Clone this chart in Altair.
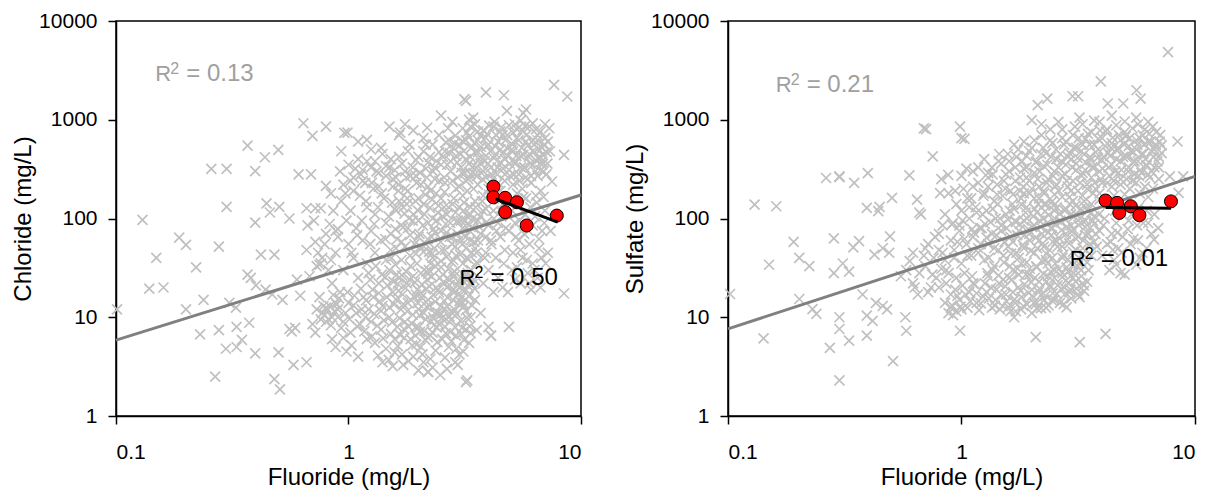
import altair as alt
import pandas as pd

FONT = "Liberation Sans"
x_ticks = [0.1, 1, 10]
y_ticks = [1, 10, 100, 1000, 10000]

# ---- left panel: fluoride vs chloride, all wells (grey crosses) ----
chloride_all = [
    (0.101, 12), (0.13, 97), (0.139, 19.5), (0.149, 40), (0.16, 20), (0.187, 64), (0.2, 54), (0.2, 12),
    (0.221, 32), (0.23, 6.7), (0.238, 15), (0.257, 318), (0.267, 2.5), (0.277, 52), (0.277, 7.4),
    (0.297, 4.8), (0.299, 318), (0.299, 131), (0.307, 14), (0.33, 8.0), (0.33, 5.0), (0.328, 12.5),
    (0.348, 5.9), (0.368, 547), (0.368, 27), (0.374, 8.8), (0.397, 302), (0.397, 91), (0.397, 4.3),
    (0.38, 25), (0.40, 21), (0.42, 43), (0.437, 417), (0.444, 142), (0.459, 115), (0.44, 19),
    (0.47, 17), (0.48, 43), (0.48, 2.36), (0.499, 495), (0.50, 4.4), (0.504, 131), (0.507, 1.86),
    (0.52, 15), (0.557, 100), (0.557, 7.6), (0.57, 7.2), (0.59, 7.8), (0.58, 3.3), (0.60, 24),
    (0.61, 280), (0.62, 16.5), (0.64, 922), (0.66, 127), (0.66, 3.5), (0.667, 85), (0.66, 48),
    (0.69, 280), (0.70, 687), (0.70, 8.5), (0.72, 127), (0.72, 58), (0.72, 7), (0.75, 34), (0.73, 33),
    (0.76, 35), (0.73, 12), (0.76, 127), (0.80, 853), (0.80, 214), (0.80, 70), (0.85, 10), (0.85, 6),
    (0.88, 5), (0.9, 78), (0.9, 10), (0.96, 736), (0.77, 11), (0.8, 12.5), (0.83, 13), (0.87, 11.5),
    (0.79, 10.5), (0.82, 9.5), (0.68, 26), (0.74, 45), (0.79, 55), (0.84, 38), (0.88, 75), (0.71, 95),
    (0.83, 88),
    # x 0.9 - 1.2
    (0.92, 300), (0.95, 220), (0.97, 180), (1.0, 350), (1.05, 260), (1.1, 400), (1.15, 310),
    (0.93, 150), (1.02, 120), (1.12, 170), (1.18, 230), (0.98, 95), (1.08, 80), (1.2, 130),
    (0.9, 65), (1.0, 55), (1.15, 60), (1.05, 40), (0.95, 30), (1.1, 25), (1.2, 35), (0.92, 18),
    (1.0, 14), (1.08, 11), (1.16, 16), (0.95, 9), (1.02, 7), (1.12, 8.5), (1.2, 6), (0.9, 12),
    (0.98, 4.5), (1.1, 4), (1.18, 10), (0.85, 22), (0.88, 14), (0.8, 9), (0.78, 13), (0.75, 16),
    (0.82, 30), (0.77, 40), (0.88, 45), (0.86, 120), (0.84, 180), (0.93, 480), (1.1, 600),
    (0.76, 9.5), (0.81, 11.8), (0.84, 8.3), (0.89, 13.5), (0.93, 7.8), (0.97, 11), (1.01, 9.6),
    (1.05, 13.2), (1.09, 8.1), (1.14, 12), (1.19, 14.8), (0.91, 15.5), (0.99, 18), (1.06, 16.5),
    (1.13, 19.5), (1.17, 7.2), (0.86, 16.8), (0.95, 6.2), (1.03, 5.2),
    # x 1.2 - 1.7
    (1.25, 500), (1.3, 380), (1.35, 290), (1.4, 450), (1.5, 330), (1.6, 260), (1.28, 200),
    (1.42, 160), (1.55, 210), (1.65, 150), (1.3, 110), (1.45, 90), (1.6, 120), (1.25, 75),
    (1.38, 60), (1.52, 70), (1.68, 85), (1.3, 45), (1.45, 38), (1.6, 50), (1.22, 28), (1.35, 22),
    (1.5, 30), (1.65, 25), (1.28, 16), (1.4, 13), (1.55, 18), (1.68, 12), (1.25, 9), (1.38, 7.5),
    (1.5, 10), (1.62, 8), (1.3, 5.5), (1.45, 4.8), (1.58, 6), (1.7, 4.2), (1.4, 3.5), (1.55, 3.2),
    (1.65, 700), (1.5, 850),
    # x 1.7 - 2.4
    (1.75, 900), (1.9, 780), (2.1, 650), (2.3, 560), (1.8, 480), (2.0, 420), (2.2, 370),
    (1.75, 300), (1.95, 270), (2.15, 320), (2.35, 250), (1.8, 190), (2.0, 160), (2.2, 210),
    (2.38, 180), (1.72, 130), (1.9, 110), (2.1, 140), (2.3, 100), (1.8, 80), (2.0, 65), (2.2, 90),
    (2.35, 72), (1.75, 52), (1.95, 44), (2.15, 55), (2.3, 40), (1.85, 33), (2.05, 28), (2.25, 35),
    (1.78, 22), (1.98, 19), (2.18, 24), (2.38, 20), (1.8, 14), (2.0, 12), (2.2, 15), (2.35, 11),
    (1.75, 9), (1.95, 8), (2.15, 9.5), (2.3, 7), (1.85, 6), (2.05, 5), (2.25, 6.5), (1.9, 4),
    (2.1, 3.5), (2.2, 2.8), (2.3, 3.1), (1.72, 3.3), (2.0, 2.9),
    # x 2.4 - 3.4
    (2.5, 1100), (2.8, 950), (3.1, 820), (3.3, 1000), (2.45, 700), (2.7, 620), (3.0, 550),
    (3.3, 680), (2.6, 480), (2.9, 430), (3.2, 400), (2.5, 350), (2.75, 300), (3.05, 330),
    (3.35, 280), (2.6, 230), (2.9, 200), (3.2, 240), (2.5, 160), (2.8, 140), (3.1, 170),
    (3.35, 130), (2.65, 110), (2.95, 95), (3.25, 105), (2.5, 75), (2.8, 65), (3.1, 80), (3.35, 60),
    (2.6, 48), (2.9, 42), (3.2, 50), (2.5, 32), (2.8, 28), (3.1, 35), (3.3, 25), (2.65, 20),
    (2.95, 17), (3.25, 21), (2.5, 13), (2.8, 11), (3.1, 14), (3.35, 10), (2.6, 8), (2.9, 6.5),
    (3.2, 7.5), (2.7, 5), (3.0, 4.2), (3.3, 5.5), (3.2, 2.2), (3.15, 1620), (3.2, 1550),
    # x 3.4 - 5
    (3.5, 900), (3.8, 780), (4.2, 850), (4.6, 700), (3.6, 620), (4.0, 560), (4.4, 600), (4.8, 520),
    (3.5, 470), (3.9, 430), (4.3, 450), (4.7, 400), (3.7, 360), (4.1, 330), (4.5, 370), (4.9, 310),
    (3.5, 280), (3.9, 260), (4.3, 290), (4.7, 240), (3.6, 220), (4.0, 200), (4.5, 190), (3.8, 170),
    (4.2, 120), (4.6, 140), (3.5, 150), (3.9, 125), (4.8, 110), (3.6, 95), (4.0, 85), (4.4, 90),
    (4.9, 75), (3.7, 70), (4.1, 60), (4.5, 65), (3.5, 50), (3.9, 45), (4.3, 40), (4.7, 48),
    (3.6, 35), (4.0, 30), (4.4, 25), (3.8, 22), (4.2, 18), (3.5, 15), (4.6, 20), (3.7, 11),
    (4.0, 8), (3.44, 1050), (4.1, 6.5),
    # x 5 - 8
    (5.2, 900), (5.6, 780), (6.0, 850), (6.5, 700), (5.3, 650), (5.8, 600), (6.3, 560), (6.8, 520),
    (5.1, 480), (5.5, 430), (6.0, 450), (6.6, 400), (7.2, 600), (5.2, 360), (5.7, 330), (6.2, 350),
    (6.9, 300), (5.4, 280), (5.9, 250), (6.5, 270), (5.1, 220), (5.6, 200), (6.1, 230), (6.7, 190),
    (5.3, 180), (5.8, 160), (6.4, 170), (7.0, 120), (5.2, 90), (5.7, 70), (6.2, 85), (6.8, 75),
    (5.4, 60), (6.0, 55), (6.6, 50), (5.1, 45), (5.6, 40), (6.2, 35), (5.3, 32), (5.9, 28),
    (6.5, 25), (5.5, 22), (6.1, 19), (6.7, 20),
    # dense lower lobe
    (1.22, 12), (1.27, 19), (1.33, 8.2), (1.36, 14.5), (1.42, 9.3), (1.47, 21), (1.52, 6.8),
    (1.57, 13.5), (1.61, 27), (1.66, 9.8), (1.71, 17), (1.74, 6.2), (1.79, 11.5), (1.83, 24),
    (1.87, 8.6), (1.92, 16), (1.96, 5.3), (2.02, 10.5), (2.07, 21.5), (2.12, 7.3), (2.17, 12.8),
    (2.22, 30), (2.27, 9.1), (2.32, 16.8), (2.37, 4.6), (2.42, 11.2), (2.47, 25), (2.53, 6),
    (2.58, 14.7), (2.63, 9.6), (2.69, 31), (2.74, 7.1), (2.79, 18.5), (2.85, 12), (2.91, 4.8),
    (2.97, 23), (3.03, 9.2), (3.08, 16.2), (3.14, 5.9), (3.2, 11.7), (3.26, 28), (3.32, 8.1),
    (3.4, 13.2), (3.48, 19.5), (3.56, 7.4),
    (1.24, 24), (1.31, 33), (1.39, 27), (1.46, 16), (1.53, 40), (1.59, 34), (1.64, 18.5), (1.69, 38),
    (1.77, 29), (1.84, 42), (1.9, 26), (1.97, 35), (2.04, 17.5), (2.1, 46), (2.16, 29), (2.23, 20.5),
    (2.29, 44), (2.36, 33), (2.43, 19), (2.5, 37), (2.56, 22.5), (2.64, 41), (2.71, 24), (2.78, 36),
    (2.86, 29), (2.94, 21), (3.02, 43), (3.11, 27), (3.19, 19), (3.28, 39), (3.37, 30), (3.46, 24),
    (3.55, 45),
    (1.34, 4.1), (1.49, 3.7), (1.63, 5.1), (1.81, 3.6), (1.94, 6.5), (2.08, 4.2), (2.25, 3.8),
    (2.41, 5.6), (2.6, 3.9), (2.77, 5.7), (2.95, 3.3), (3.12, 4.5), (2.48, 2.6), (2.65, 3.0),
    (1.58, 4.4), (1.73, 7.6), (1.88, 5.2), (2.0, 7.9), (2.14, 5.9), (2.33, 8.3), (2.52, 9.8),
    (2.72, 10.2), (2.88, 7.9), (3.05, 6.8),
    (1.29, 10.8), (1.35, 17.5), (1.41, 6.1), (1.44, 25.5), (1.5, 12.6), (1.54, 8.9), (1.6, 15.2),
    (1.63, 21.8), (1.67, 6.6), (1.72, 13.6), (1.76, 19.8), (1.81, 8.1), (1.85, 15.1), (1.89, 10.6),
    (1.93, 22.5), (1.99, 13.9), (2.03, 7.1), (2.06, 16), (2.11, 11.1), (2.15, 19.2), (2.19, 6.3),
    (2.23, 13.1), (2.28, 25.8), (2.31, 10), (2.36, 14.4), (2.4, 7.9), (2.45, 17.8), (2.5, 10.7),
    (2.55, 27), (2.59, 12.2), (2.62, 6.9), (2.67, 15.8), (2.72, 21.2), (2.76, 9.4), (2.82, 14.9),
    (2.87, 18.2), (2.92, 10.8), (2.98, 13.5), (3.03, 20.1), (3.08, 7.8), (3.13, 12.9), (3.18, 24.5),
    (3.23, 9.9), (3.29, 16.4), (3.35, 6.9), (3.41, 21.7), (1.26, 6.4), (1.38, 11.6), (1.56, 23),
    (1.7, 26.5), (1.95, 17), (2.2, 27.5), (2.45, 8.5), (2.66, 12.9), (2.83, 25.6), (3.0, 14.6),
    # dense middle
    (1.03, 45), (1.09, 68), (1.14, 95), (1.19, 150), (1.24, 55), (1.29, 88), (1.34, 130), (1.39, 180),
    (1.44, 62), (1.49, 105), (1.54, 145), (1.59, 78), (1.64, 190), (1.69, 58), (1.74, 112),
    (1.79, 160), (1.84, 68), (1.89, 95), (1.94, 150), (1.99, 120), (2.04, 52), (2.09, 85),
    (2.14, 175), (2.19, 62), (2.24, 128), (2.29, 155), (2.34, 50), (2.39, 95), (2.44, 135),
    (2.49, 58), (2.54, 105), (2.59, 185), (2.64, 72), (2.69, 130), (2.74, 90), (2.79, 55),
    (2.84, 160), (2.89, 115), (2.94, 70), (2.99, 130), (3.04, 95), (3.09, 55), (3.14, 145),
    (3.19, 65), (3.24, 190), (3.29, 85), (3.34, 110), (3.39, 45), (3.45, 80), (3.52, 130),
    (3.6, 60), (3.68, 105), (3.76, 150), (3.85, 40), (3.93, 92), (4.02, 175), (4.12, 55),
    (4.22, 100), (4.33, 75), (4.45, 155),
    (1.52, 48), (1.62, 62), (1.72, 82), (1.82, 100), (1.92, 55), (2.02, 70), (2.12, 110), (2.22, 46),
    (2.32, 78), (2.42, 115), (2.52, 48), (2.62, 88), (2.72, 65), (2.82, 38), (2.92, 92), (3.02, 62),
    (3.12, 120), (3.22, 40), (3.32, 75), (3.42, 100), (3.55, 36), (3.65, 82), (3.78, 120), (3.9, 65),
    (1.58, 125), (1.78, 140), (2.0, 95), (2.28, 65), (2.58, 130), (2.88, 52), (3.18, 95), (3.48, 58),
    (1.02, 240), (1.07, 320), (1.13, 280), (1.2, 380), (1.26, 230), (1.32, 300), (1.38, 520),
    (1.45, 270), (1.52, 400), (1.58, 310), (1.64, 220), (1.7, 360), (1.77, 260), (1.83, 560),
    (1.89, 330), (1.96, 230), (2.03, 290), (2.1, 480), (2.17, 260), (2.24, 420), (2.31, 300),
    (2.39, 380), (2.46, 240),
    (1.05, 190), (1.15, 240), (1.25, 330), (1.35, 210), (1.45, 340), (1.55, 250), (1.65, 420),
    (1.75, 200), (1.85, 270), (1.95, 390), (2.05, 220), (2.15, 560), (2.25, 190), (2.35, 330),
    (2.45, 470),
    # dense upper-right lobe
    (2.55, 420), (2.62, 590), (2.68, 820), (2.75, 380), (2.82, 520), (2.88, 690), (2.95, 260),
    (3.02, 450), (3.09, 610), (3.16, 290), (3.23, 740), (3.3, 360), (3.37, 520), (3.45, 200),
    (3.53, 330), (3.61, 470), (3.69, 690), (3.77, 250), (3.85, 380), (3.94, 540), (4.03, 870),
    (4.12, 280), (4.21, 410), (4.31, 700), (4.41, 230), (4.51, 500), (4.62, 320), (4.73, 620),
    (4.84, 430), (4.95, 270), (5.07, 560), (5.19, 380), (5.31, 800), (5.43, 240), (5.56, 520),
    (5.69, 330), (5.82, 700), (5.96, 420), (6.1, 270), (6.24, 620), (6.39, 390), (6.54, 510),
    (6.69, 310), (6.85, 440), (7.01, 650), (7.17, 360), (7.35, 480), (7.1, 280),
    (3.6, 760), (4.25, 950), (4.9, 880), (5.5, 980), (6.2, 920), (6.7, 760), (7.3, 820),
    (2.58, 260), (2.66, 350), (2.73, 460), (2.8, 240), (2.86, 580), (2.93, 370), (3.0, 210),
    (3.07, 290), (3.13, 480), (3.2, 620), (3.27, 250), (3.34, 420), (3.41, 330), (3.48, 580),
    (3.56, 270), (3.64, 400), (3.72, 530), (3.8, 300), (3.89, 660), (3.98, 360), (4.07, 480),
    (4.17, 250), (4.27, 540), (4.38, 330), (4.49, 760), (4.6, 450), (4.71, 280), (4.82, 700),
    (4.93, 360), (5.04, 500), (5.15, 280), (5.27, 430), (5.39, 620), (5.52, 330), (5.65, 440),
    (5.78, 260), (5.92, 550), (6.06, 360), (6.2, 480), (6.35, 300), (6.5, 620), (6.65, 420),
    (6.8, 350), (6.96, 560), (7.12, 470), (3.35, 850), (3.95, 720), (4.55, 840), (5.1, 740),
    (5.75, 860), (6.4, 800), (7.0, 900),
    (4.35, 180), (4.6, 160), (4.95, 150), (5.35, 140), (5.65, 165), (6.05, 130), (6.45, 145),
    (6.9, 165),
    (4.55, 105), (4.75, 80), (5.05, 120), (5.25, 65), (5.45, 95), (5.75, 110), (5.95, 75),
    (6.35, 105), (6.6, 62), (6.95, 90), (7.2, 45), (4.65, 35), (5.05, 30), (5.5, 48), (5.85, 38),
    (6.3, 30), (6.75, 40), (7.05, 35), (4.85, 18), (5.2, 24), (6.0, 22), (7.4, 75),
    # outliers on the high side
    (7.66, 2260), (8.73, 1720), (3.9, 1890), (4.66, 1770), (4.8, 1230), (5.8, 1270), (5.65, 1165),
    (2.18, 830), (1.67, 740), (0.99, 740), (1.2, 625), (8.45, 440), (6.8, 377), (7.5, 237),
    (8.45, 17.4), (4.9, 8.0), (4.1, 6.5), (3.24, 2.3), (2.88, 3.5), (2.2, 2.8),
]
chloride_sub = [(4.2, 210), (4.2, 164), (4.72, 162), (5.3, 146), (4.72, 116), (5.84, 85), (7.87, 107)]
chloride_fit_all = [(0.1, 5.86), (10, 173)]
chloride_fit_sub = [(4.29, 158), (7.94, 92)]

# ---- right panel: fluoride vs sulfate ----
sulfate_all = [
    (0.102, 17.2), (0.13, 138), (0.161, 133), (0.142, 6.1), (0.15, 34), (0.191, 58), (0.202, 40),
    (0.202, 15.3), (0.223, 33), (0.23, 12.1), (0.239, 10.8), (0.263, 257), (0.30, 267), (0.30, 262),
    (0.284, 63), (0.284, 28), (0.273, 4.9), (0.30, 10), (0.30, 7.6), (0.30, 2.3), (0.33, 5.8),
    (0.31, 35), (0.33, 29), (0.347, 229), (0.397, 288), (0.364, 59), (0.344, 51), (0.377, 17),
    (0.393, 10.4), (0.393, 6.5), (0.416, 9.2), (0.393, 128), (0.446, 131), (0.44, 119), (0.424, 43),
    (0.46, 50), (0.49, 45), (0.43, 14), (0.46, 13), (0.48, 12), (0.504, 162), (0.494, 66),
    (0.509, 3.6), (0.575, 10), (0.58, 7.3), (0.598, 273), (0.645, 155), (0.66, 115), (0.67, 110),
    (0.69, 818), (0.705, 805), (0.753, 425), (0.81, 181), (0.877, 277), (0.91, 87), (0.985, 850),
    (1.0, 650), (1.03, 640), (0.985, 7.3), (0.65, 17), (0.63, 20), (0.72, 18), (0.75, 27),
    (0.6, 37), (0.58, 30), (0.55, 26), (0.7, 50), (0.76, 40), (0.62, 45),
    (0.62, 22), (0.66, 28), (0.7, 33), (0.74, 20), (0.78, 25), (0.82, 31), (0.86, 22), (0.72, 55),
    (0.8, 48), (0.85, 38), (0.77, 65), (0.83, 85), (0.88, 28), (0.69, 42),
    # x 0.8 - 1.2
    (0.82, 250), (0.88, 180), (0.95, 140), (1.02, 200), (1.1, 160), (1.18, 230), (0.85, 110),
    (0.92, 90), (1.0, 120), (1.08, 100), (1.15, 130), (0.8, 70), (0.9, 60), (0.98, 75), (1.05, 55),
    (1.12, 65), (1.2, 80), (0.83, 45), (0.93, 40), (1.0, 35), (1.1, 42), (1.18, 50), (0.86, 30),
    (0.95, 25), (1.03, 28), (1.12, 22), (0.8, 20), (0.9, 17), (0.98, 15), (1.08, 18), (1.16, 14),
    (0.88, 11), (0.92, 10.5), (0.95, 11.5), (0.9, 12.5), (1.0, 12), (0.85, 14), (1.12, 300),
    (1.05, 320),
    # x 1.2 - 1.8
    (1.25, 400), (1.35, 330), (1.45, 450), (1.6, 380), (1.75, 500), (1.3, 260), (1.42, 220),
    (1.55, 280), (1.7, 240), (1.25, 180), (1.38, 150), (1.5, 170), (1.65, 140), (1.78, 190),
    (1.28, 120), (1.4, 100), (1.55, 110), (1.7, 95), (1.22, 80), (1.35, 70), (1.48, 85), (1.62, 65),
    (1.76, 75), (1.3, 55), (1.44, 48), (1.58, 52), (1.72, 45), (1.25, 38), (1.38, 33), (1.52, 36),
    (1.66, 30), (1.8, 35), (1.3, 26), (1.45, 22), (1.6, 25), (1.75, 20), (1.28, 18), (1.4, 15),
    (1.55, 17), (1.7, 14), (1.35, 12.5), (1.62, 11.5), (1.5, 13), (1.8, 12),
    # x 1.8 - 2.6
    (1.85, 600), (2.0, 520), (2.2, 700), (2.45, 580), (1.9, 430), (2.1, 380), (2.3, 460), (2.55, 400),
    (1.85, 320), (2.05, 290), (2.25, 340), (2.5, 300), (1.95, 240), (2.15, 210), (2.35, 250),
    (2.55, 220), (1.85, 180), (2.05, 160), (2.25, 190), (2.45, 150), (1.9, 130), (2.1, 115),
    (2.3, 140), (2.5, 120), (1.85, 95), (2.05, 85), (2.25, 100), (2.45, 80), (1.95, 70), (2.15, 60),
    (2.35, 72), (2.55, 58), (1.85, 50), (2.05, 45), (2.25, 52), (2.45, 40), (1.9, 36), (2.1, 32),
    (2.3, 38), (2.5, 30), (1.95, 27), (2.15, 23), (2.35, 26), (2.0, 19), (2.2, 17), (2.4, 20),
    (2.1, 14), (2.3, 12.5), (2.0, 11), (2.5, 15), (2.2, 900), (2.4, 800),
    # x 2.6 - 3.8
    (2.7, 800), (3.0, 700), (3.3, 900), (3.6, 750), (2.8, 600), (3.1, 520), (3.4, 640), (3.7, 560),
    (2.65, 450), (2.95, 400), (3.25, 480), (3.55, 420), (2.8, 350), (3.1, 310), (3.4, 370),
    (3.7, 330), (2.7, 270), (3.0, 240), (3.3, 290), (3.6, 260), (2.85, 210), (3.15, 190),
    (3.45, 220), (3.75, 200), (2.7, 165), (3.0, 150), (3.3, 170), (3.6, 140), (2.8, 125),
    (3.1, 110), (3.4, 130), (3.7, 105), (2.65, 95), (2.95, 85), (3.25, 90), (3.55, 80), (2.8, 70),
    (3.1, 62), (3.4, 68), (3.7, 58), (2.7, 52), (3.0, 46), (3.3, 50), (3.6, 42), (2.85, 38),
    (3.15, 33), (3.45, 36), (2.7, 28), (3.0, 25), (3.3, 22), (2.9, 18), (3.2, 16), (2.75, 20),
    (3.5, 30),
    # x 3.8 - 5.5
    (3.9, 950), (4.2, 800), (4.6, 880), (5.0, 750), (5.4, 820), (4.0, 650), (4.4, 580), (4.8, 620),
    (5.2, 540), (3.85, 500), (4.25, 460), (4.65, 490), (5.05, 430), (5.45, 470), (4.0, 390),
    (4.4, 350), (4.8, 380), (5.2, 330), (3.9, 300), (4.3, 270), (4.7, 290), (5.1, 250), (5.5, 280),
    (4.0, 230), (4.4, 210), (4.8, 220), (5.25, 200), (3.9, 180), (4.5, 170), (5.0, 175), (4.1, 100),
    (4.6, 90), (5.2, 95), (3.9, 75), (4.4, 70), (4.9, 65), (4.2, 55), (4.7, 50), (5.3, 55),
    (4.0, 42), (4.5, 38), (4.3, 30), (4.8, 28),
    # x 5.5 - 8
    (5.7, 900), (6.1, 800), (6.6, 850), (7.1, 700), (5.8, 650), (6.3, 600), (6.8, 560), (5.6, 500),
    (6.0, 450), (6.5, 480), (7.0, 420), (5.7, 380), (6.2, 350), (6.7, 330), (5.9, 290), (6.4, 260),
    (7.0, 250), (5.6, 230), (6.1, 210), (6.6, 200), (5.8, 180), (6.3, 165), (6.0, 90), (6.5, 70),
    (5.7, 60), (6.2, 50), (7.2, 550),
    # dense lower part
    (0.91, 13.2), (0.96, 16.5), (1.01, 21), (1.06, 12.5), (1.11, 26), (1.16, 17.5), (1.21, 13.8),
    (1.26, 22), (1.31, 15.5), (1.36, 30), (1.41, 19), (1.46, 12), (1.51, 24), (1.56, 14.5),
    (1.61, 33), (1.66, 18), (1.71, 11.5), (1.76, 27), (1.81, 16), (1.86, 21.5), (1.91, 13.5),
    (1.96, 31), (2.01, 16.5), (2.06, 25), (2.11, 12.2), (2.16, 19.5), (2.21, 37), (2.26, 15),
    (2.31, 23), (2.36, 13.2), (2.41, 29), (2.46, 17.5), (2.52, 35), (2.58, 21), (2.64, 14),
    (2.7, 25.5), (2.76, 17), (2.82, 32), (2.88, 22), (2.95, 15.5), (3.02, 28), (3.1, 19.5),
    (3.18, 35), (3.26, 26), (3.35, 18.5), (3.45, 23),
    (0.94, 19), (0.99, 12.8), (1.04, 17), (1.09, 14.5), (1.14, 21.5), (1.19, 11.8), (1.24, 16.2),
    (1.29, 28), (1.34, 19.8), (1.39, 13.1), (1.44, 26.5), (1.49, 16.8), (1.54, 20.5), (1.59, 12.7),
    (1.64, 24), (1.69, 15.2), (1.74, 31), (1.79, 18.5), (1.84, 13), (1.89, 27), (1.94, 17.6),
    (1.99, 22.5), (2.04, 14), (2.09, 33), (2.14, 18), (2.19, 12.4), (2.24, 27.5), (2.29, 16.5),
    (2.34, 35), (2.39, 21), (2.44, 14.8), (2.5, 25), (2.56, 17.2), (2.62, 31), (2.68, 19.5),
    (2.74, 13.6), (2.8, 23.5), (2.87, 29), (2.93, 19), (3.0, 34), (3.08, 23), (3.16, 17),
    (3.25, 30), (3.34, 21),
    # dense middle
    (0.93, 48), (0.98, 85), (1.03, 62), (1.08, 130), (1.13, 72), (1.18, 45), (1.23, 110), (1.28, 64),
    (1.33, 92), (1.38, 50), (1.43, 140), (1.48, 75), (1.53, 58), (1.58, 98), (1.63, 44), (1.68, 125),
    (1.73, 68), (1.78, 88), (1.83, 54), (1.88, 115), (1.93, 78), (1.98, 47), (2.03, 105), (2.08, 64),
    (2.13, 140), (2.18, 82), (2.23, 56), (2.28, 118), (2.33, 90), (2.38, 48), (2.43, 68), (2.48, 135),
    (2.53, 88), (2.58, 52), (2.63, 112), (2.68, 76), (2.73, 43), (2.79, 98), (2.85, 62), (2.91, 140),
    (2.97, 74), (3.03, 105), (3.1, 48), (3.17, 86), (3.24, 125), (3.32, 60), (3.4, 95), (3.5, 70),
    (3.6, 115), (3.7, 88), (3.8, 52),
    (0.96, 58), (1.01, 95), (1.06, 42), (1.11, 78), (1.16, 115), (1.21, 55), (1.26, 88), (1.31, 40),
    (1.36, 125), (1.41, 68), (1.46, 100), (1.51, 42), (1.56, 80), (1.61, 120), (1.66, 58),
    (1.71, 92), (1.76, 40), (1.81, 138), (1.86, 68), (1.91, 100), (1.96, 60), (2.01, 82),
    (2.06, 125), (2.11, 50), (2.16, 95), (2.21, 70), (2.26, 140), (2.31, 44), (2.36, 108),
    (2.41, 80), (2.46, 58), (2.51, 100), (2.56, 130), (2.61, 64), (2.66, 92), (2.71, 40),
    (2.77, 120), (2.83, 82), (2.89, 56), (2.95, 110), (3.01, 78), (3.08, 135), (3.15, 66),
    (3.22, 100), (3.3, 44), (3.38, 82), (3.46, 120), (3.55, 55), (3.65, 95), (3.75, 70), (3.88, 110),
    (0.94, 190), (1.0, 270), (1.06, 160), (1.12, 210), (1.18, 330), (1.24, 170), (1.3, 210),
    (1.36, 280), (1.42, 175), (1.48, 360), (1.54, 200), (1.6, 300), (1.66, 175), (1.72, 420),
    (1.78, 260), (1.84, 210), (1.9, 330), (1.96, 180),
    (1.3, 290), (1.44, 380), (1.58, 450), (1.68, 560), (1.82, 380), (1.95, 480),
    # dense upper-right
    (2.05, 620), (2.12, 250), (2.19, 450), (2.26, 180), (2.33, 350), (2.4, 620), (2.47, 270),
    (2.54, 500), (2.61, 190), (2.68, 380), (2.75, 560), (2.82, 240), (2.9, 460), (2.98, 330),
    (3.06, 850), (3.14, 410), (3.22, 230), (3.3, 560), (3.39, 310), (3.48, 720), (3.57, 390),
    (3.66, 180), (3.75, 470), (3.85, 640), (3.95, 250), (4.05, 420), (4.15, 760), (4.26, 330),
    (4.37, 520), (4.48, 240), (4.6, 400), (4.72, 700), (4.84, 310), (4.97, 560), (5.1, 420),
    (5.24, 650), (5.38, 240), (5.52, 380), (5.67, 560), (5.82, 310), (5.98, 700), (6.14, 400),
    (6.3, 280), (6.47, 600), (6.64, 420), (6.82, 750), (7.0, 330), (7.2, 460),
    (1.52, 240), (1.62, 190), (1.7, 330), (1.8, 160), (1.9, 260), (2.0, 200), (2.08, 370),
    (2.16, 300), (2.24, 520), (2.32, 230), (2.42, 420), (2.52, 210), (2.6, 330), (2.7, 650),
    (2.78, 280), (2.86, 420), (2.94, 190), (3.02, 520), (3.1, 360), (3.18, 650), (3.27, 270),
    (3.36, 450), (3.45, 200), (3.54, 560), (3.63, 330), (3.72, 230), (3.82, 410), (3.92, 780),
    (4.02, 320), (4.12, 540), (4.22, 230), (4.33, 430), (4.44, 660), (4.56, 300), (4.68, 520),
    (4.8, 250), (4.92, 420), (5.05, 680), (5.18, 300), (5.32, 480), (5.46, 380), (5.6, 620),
    (5.75, 270), (5.9, 450), (6.05, 560), (6.2, 340), (6.36, 720), (6.52, 300), (6.7, 500),
    (6.9, 380), (7.05, 600),
    (2.6, 950), (3.2, 1050), (3.7, 980), (4.4, 1100), (5.0, 960), (5.6, 1050), (6.3, 950),
    (2.15, 160), (2.5, 175), (2.9, 165), (3.35, 150), (3.9, 155), (4.25, 140), (4.55, 120),
    (4.95, 140), (5.35, 110), (5.75, 130), (6.2, 120), (6.7, 110),
    (4.05, 85), (4.35, 58), (4.65, 72), (4.85, 45), (5.15, 78), (5.45, 62), (5.65, 85), (5.95, 45),
    (6.3, 90), (4.45, 48), (5.8, 40),
    # outliers
    (7.66, 4840), (3.95, 2450), (5.62, 1990), (5.85, 1640), (2.99, 1730), (3.16, 1730), (2.33, 1640),
    (2.12, 1406), (2.0, 993), (4.23, 1460), (4.93, 1460), (8.42, 602), (7.8, 267), (8.5, 182),
    (8.9, 267), (6.96, 80), (6.68, 61), (4.14, 6.8), (3.21, 5.6), (2.08, 6.3), (1.68, 10),
    (2.82, 12.6), (5.0, 27), (4.6, 34), (5.6, 34),
]
sulfate_sub = [(4.14, 152), (4.64, 144), (4.74, 114), (5.31, 133), (5.78, 108), (7.89, 149)]
sulfate_fit_all = [(0.1, 7.63), (10, 267)]
sulfate_fit_sub = [(4.14, 129), (7.89, 127)]

# R^2 labels: (fluoride, value, rest of text, colour)
chloride_labels = [(0.1475, 2440, "= 0.13", "#A0A0A0"), (3.0, 21.3, "= 0.50", "#000000")]
sulfate_labels = [(0.16, 1900, "= 0.21", "#A0A0A0"), (2.91, 33, "= 0.01", "#000000")]

X_SHAPE = "M-1,-1L1,1M-1,1L1,-1"


def frame(pts):
    return pd.DataFrame(pts, columns=["f", "v"])


def panel(all_pts, sub_pts, fit_all, fit_sub, labels, ytitle, width):
    x = alt.X("f:Q", scale=alt.Scale(type="log", domain=[0.1, 10]),
              axis=alt.Axis(values=x_ticks, format="~g", title="Fluoride (mg/L)"))
    y = alt.Y("v:Q", scale=alt.Scale(type="log", domain=[1, 10000]),
              axis=alt.Axis(values=y_ticks, format="~g", title=ytitle))

    crosses = alt.Chart(frame(all_pts)).mark_point(
        shape=X_SHAPE, filled=False, color="#C0C0C0", strokeWidth=1.7, size=100, opacity=1
    ).encode(x=x, y=y)
    trend = alt.Chart(frame(fit_all)).mark_line(color="#808080", strokeWidth=3).encode(x=x, y=y)
    dots = alt.Chart(frame(sub_pts)).mark_circle(
        color="#FF0000", stroke="black", strokeWidth=1, size=170, opacity=1
    ).encode(x=x, y=y)
    sub_trend = alt.Chart(frame(fit_sub)).mark_line(color="black", strokeWidth=3).encode(x=x, y=y)

    lab = alt.Chart(pd.DataFrame(labels, columns=["f", "v", "t", "c"])).encode(
        x=x, y=y, color=alt.Color("c:N", scale=None))
    r_txt = lab.mark_text(align="left", baseline="alphabetic", font=FONT, fontSize=22, text="R")
    sup_txt = lab.mark_text(align="left", baseline="alphabetic", font=FONT, fontSize=16,
                            text="2", dx=15, dy=-7)
    rest_txt = lab.mark_text(align="left", baseline="alphabetic", font=FONT, fontSize=24,
                             dx=31).encode(text="t:N")
    return alt.layer(crosses, trend, dots, sub_trend, r_txt, sup_txt, rest_txt).properties(
        width=width, height=395)


left = panel(chloride_all, chloride_sub, chloride_fit_all, chloride_fit_sub,
             chloride_labels, "Chloride (mg/L)", 465)
right = panel(sulfate_all, sulfate_sub, sulfate_fit_all, sulfate_fit_sub,
              sulfate_labels, "Sulfate (mg/L)", 467)

chart = alt.hconcat(left, right, spacing=147, bounds="flush").properties(
    padding={"left": 2, "top": 1, "right": 2, "bottom": 5}
).configure_axis(
    grid=False, labelFont=FONT, titleFont=FONT, labelFontSize=21, titleFontSize=24,
    titleFontWeight="normal", labelColor="black", titleColor="black",
    domainColor="black", domainWidth=1.5, tickColor="black", tickWidth=1.5, tickSize=8,
).configure_axisX(labelPadding=17, titlePadding=3).configure_axisY(
    labelPadding=11, titlePadding=3
).configure_view(stroke="black", strokeWidth=1.5)

chart.save("out.html", embed_options={"renderer": "svg", "actions": False})
